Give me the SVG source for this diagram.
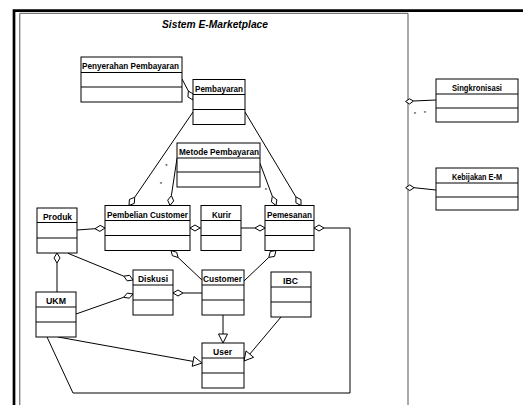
<svg xmlns="http://www.w3.org/2000/svg" width="523" height="405" viewBox="0 0 523 405">
<style>
.box{fill:#fff;stroke:#000;stroke-width:1}
.dv{stroke:#000;stroke-width:1}
.h{font-family:"Liberation Sans",Arial,sans-serif;font-weight:bold;font-size:9.5px;text-anchor:middle;fill:#000}
.t{font-family:"Liberation Sans",Arial,sans-serif;font-weight:bold;font-style:italic;font-size:11px;text-anchor:middle;fill:#000}
.st{font-family:"Liberation Sans",Arial,sans-serif;font-size:6px;text-anchor:middle;fill:#000}
.ln{fill:none;stroke:#000;stroke-width:1}
.dm{fill:#fff;stroke:#000;stroke-width:1}
.tr{fill:#fff;stroke:#000;stroke-width:1}
</style>
<rect width="523" height="405" fill="#fff"/>
<g id="frame">
<path d="M14 405 V10.7 H523" fill="none" stroke="#000" stroke-width="2.7"/>
<path d="M19.8 405 V13.3 H408 V405" fill="none" stroke="#555" stroke-width="1"/>
<text class="t" x="215" y="27.5" textLength="106" lengthAdjust="spacingAndGlyphs">Sistem E-Marketplace</text>
</g>
<g id="connectors">
<path class="ln" d="M182 79 L188.4 91.1"/>
<polygon class="dm" points="193,100 187.9,96.9 188.4,91.1 193.5,94.2"/>
<path class="ln" d="M193 112 L134.7 197.3"/>
<polygon class="dm" points="129,205.5 129.4,199.4 134.7,197.3 134.3,203.4"/>
<path class="ln" d="M245 112 L295.9 196.9"/>
<polygon class="dm" points="301,205.5 295.9,202.8 295.9,196.9 301.0,199.6"/>
<path class="ln" d="M260 163.3 L272.3 196.2"/>
<polygon class="dm" points="276,205.5 271.4,201.9 272.3,196.2 276.9,199.8"/>
<path class="ln" d="M177 158.3 L171.4 195.6"/>
<polygon class="dm" points="170,205.5 167.7,200.2 171.4,195.6 173.7,200.9"/>
<path class="ln" d="M77 230 L95 228.7"/>
<polygon class="dm" points="105,228 100.2,225.4 95,228.7 99.8,231.4"/>
<path class="ln" d="M200 228 H201"/>
<polygon class="dm" points="190,228 195,225 200,228 195,231"/>
<path class="ln" d="M241 228 H255" stroke-width="2"/>
<polygon class="dm" points="265,228 260,225 255,228 260,231"/>
<path class="ln" d="M47 337 L73 393 H350 V228 H324"/>
<polygon class="dm" points="314,228 319,225 324,228 319,231"/>
<path class="ln" d="M244 281 L268.8 257.4"/>
<polygon class="dm" points="276,250.5 274.5,256.4 268.8,257.4 270.3,251.5"/>
<path class="ln" d="M202 280 L178.1 257.5"/>
<polygon class="dm" points="171,250.5 176.7,252.3 178.1,257.5 172.4,255.7"/>
<path class="ln" d="M57 263 V292"/>
<polygon class="dm" points="57,253 60,258 57,263 54,258"/>
<path class="ln" d="M68 253.3 L123.8 276.2"/>
<polygon class="dm" points="133,280 127.2,280.9 123.8,276.2 129.6,275.3"/>
<path class="ln" d="M76 314 L123.6 297.3"/>
<polygon class="dm" points="133,294 129.3,298.2 123.6,297.3 127.3,293.1"/>
<path class="ln" d="M202 293 H183"/>
<polygon class="dm" points="173,293 178,290 183,293 178,296"/>
<path class="ln" d="M223 315 V334"/>
<polygon class="tr" points="223,343 218.5,334 227.5,334"/>
<path class="ln" d="M58 337 L193.1 361.4"/>
<polygon class="tr" points="202,363 192.2,366.3 194,356.5"/>
<path class="ln" d="M281 317 L249.8 354.1"/>
<polygon class="tr" points="244,361 246,350.9 253.6,357.3"/>
<path class="ln" d="M413.5 101 L436 100"/>
<polygon class="dm" points="405.5,101.5 409.5,98.8 413.5,101 409.5,104"/>
<path class="ln" d="M414 187.7 L436 190"/>
<polygon class="dm" points="405.7,187.7 409.8,184.9 414,187.7 409.8,190.6"/>
</g>
<g id="multiplicities">
<text class="st" x="175" y="97.5">*</text>
<text class="st" x="166.5" y="167.5">*</text>
<text class="st" x="161" y="185.5">*</text>
<text class="st" x="254" y="182.5">*</text>
<text class="st" x="266" y="191.5">*</text>
<text class="st" x="415" y="116">*</text>
<text class="st" x="425" y="115">*</text>
</g>
<g id="penyerahan-pembayaran">
<rect class="box" x="81" y="57" width="101" height="45"/>
<path class="dv" d="M81 72.5 H182 M81 87 H182"/>
<text class="h" x="130.5" y="69" textLength="97" lengthAdjust="spacingAndGlyphs">Penyerahan Pembayaran</text>
</g>
<g id="pembayaran">
<rect class="box" x="193" y="79.5" width="52" height="45"/>
<path class="dv" d="M193 94.5 H245 M193 109.5 H245"/>
<text class="h" x="219" y="91.5" textLength="48" lengthAdjust="spacingAndGlyphs">Pembayaran</text>
</g>
<g id="singkronisasi">
<rect class="box" x="436" y="79" width="82" height="43"/>
<path class="dv" d="M436 94 H518 M436 108 H518"/>
<text class="h" x="477" y="91" textLength="50" lengthAdjust="spacingAndGlyphs">Singkronisasi</text>
</g>
<g id="kebijakan-em">
<rect class="box" x="436" y="168" width="82" height="42"/>
<path class="dv" d="M436 183 H518 M436 197 H518"/>
<text class="h" x="477" y="180" textLength="50" lengthAdjust="spacingAndGlyphs">Kebijakan E-M</text>
</g>
<g id="metode-pembayaran">
<rect class="box" x="177" y="143" width="83" height="44"/>
<path class="dv" d="M177 158 H260 M177 172 H260"/>
<text class="h" x="219" y="155" textLength="80" lengthAdjust="spacingAndGlyphs">Metode Pembayaran</text>
</g>
<g id="pembelian-customer">
<rect class="box" x="105" y="205.5" width="85" height="45"/>
<path class="dv" d="M105 220.5 H190 M105 235.5 H190"/>
<text class="h" x="147.5" y="217.5" textLength="81" lengthAdjust="spacingAndGlyphs">Pembelian Customer</text>
</g>
<g id="kurir">
<rect class="box" x="201" y="205.5" width="40" height="45"/>
<path class="dv" d="M201 220.5 H241 M201 235.5 H241"/>
<text class="h" x="221.5" y="217.5" textLength="19" lengthAdjust="spacingAndGlyphs">Kurir</text>
</g>
<g id="pemesanan">
<rect class="box" x="265" y="205.5" width="49" height="45"/>
<path class="dv" d="M265 220.5 H314 M265 235.5 H314"/>
<text class="h" x="289.5" y="217.5" textLength="45" lengthAdjust="spacingAndGlyphs">Pemesanan</text>
</g>
<g id="produk">
<rect class="box" x="37" y="208" width="40" height="45"/>
<path class="dv" d="M37 222.5 H77 M37 238 H77"/>
<text class="h" x="57.5" y="219.5" textLength="29" lengthAdjust="spacingAndGlyphs">Produk</text>
</g>
<g id="diskusi">
<rect class="box" x="133" y="270" width="40" height="45"/>
<path class="dv" d="M133 285 H173 M133 300 H173"/>
<text class="h" x="153" y="282" textLength="30" lengthAdjust="spacingAndGlyphs">Diskusi</text>
</g>
<g id="customer">
<rect class="box" x="202" y="270" width="42" height="45"/>
<path class="dv" d="M202 285 H244 M202 300 H244"/>
<text class="h" x="222.5" y="282" textLength="39" lengthAdjust="spacingAndGlyphs">Customer</text>
</g>
<g id="ukm">
<rect class="box" x="36" y="292" width="40" height="45"/>
<path class="dv" d="M36 307 H76 M36 322 H76"/>
<text class="h" x="56" y="304" textLength="20" lengthAdjust="spacingAndGlyphs">UKM</text>
</g>
<g id="user">
<rect class="box" x="202" y="343" width="42" height="45"/>
<path class="dv" d="M202 358 H244 M202 373 H244"/>
<text class="h" x="222.5" y="355" textLength="19" lengthAdjust="spacingAndGlyphs">User</text>
</g>
<g id="ibc">
<rect class="box" x="271" y="272" width="40" height="45"/>
<path class="dv" d="M271 287 H311 M271 302 H311"/>
<text class="h" x="290.5" y="284" textLength="15" lengthAdjust="spacingAndGlyphs">IBC</text>
</g>
</svg>
